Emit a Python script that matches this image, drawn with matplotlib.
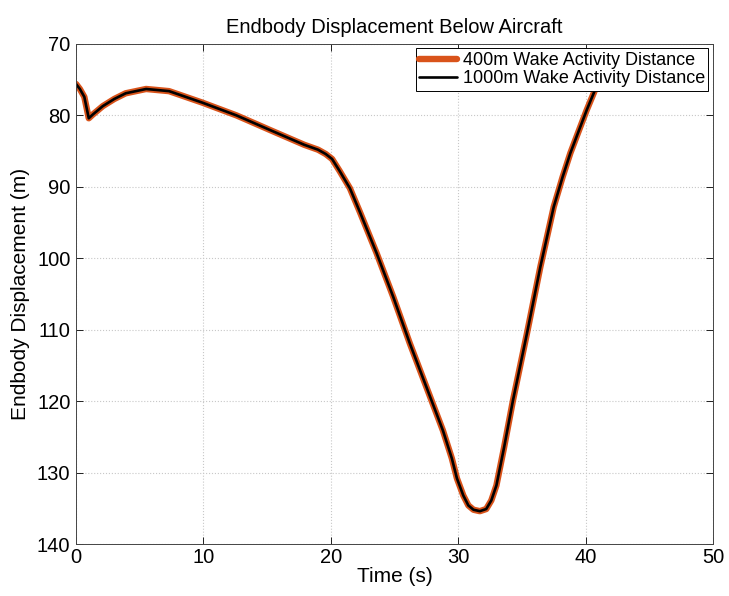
import numpy as np
import matplotlib
matplotlib.use("Agg")
import matplotlib.pyplot as plt

plt.rcParams['font.family'] = ['Liberation Sans', 'DejaVu Sans']

# endbody displacement traces (time in s, displacement in m)
time_s = [0, 0.3, 0.65, 1.0, 1.3, 2.1, 3.0, 3.9, 5.5, 7.3, 9.9, 12.6, 15.3,
          17.9, 19.0, 19.6, 20.1, 20.7, 21.5, 22.3, 23.6, 24.9, 26.2, 27.5,
          28.8, 29.5, 29.9, 30.4, 30.8, 31.2, 31.7, 32.2, 32.6, 33.0, 33.6,
          34.3, 35.4, 36.45, 37.5, 38.2, 38.8, 39.5, 40.1, 40.75, 41.5]
disp_400 = [75.6, 76.3, 77.4, 80.4, 79.9, 78.7, 77.7, 76.9, 76.3, 76.6, 78.2,
            80.0, 82.1, 84.1, 84.8, 85.4, 86.1, 87.8, 90.2, 93.6, 99.3, 105.4,
            111.9, 118.0, 124.1, 128.0, 130.8, 133.2, 134.6, 135.2, 135.4,
            135.1, 133.9, 131.8, 126.5, 119.9, 110.5, 101.2, 92.8, 88.6, 85.3,
            82.0, 79.2, 76.4, 73.5]
disp_1000 = list(disp_400)

labels = ['400m Wake Activity Distance', '1000m Wake Activity Distance']

fig = plt.figure(figsize=(7.29, 5.96), dpi=100)
ax = fig.add_axes([0.1043, 0.0872, 0.8737, 0.8390])

ax.plot(time_s, disp_400, color='#d9531a', lw=4.6, solid_joinstyle='round',
        solid_capstyle='round', label=labels[0])
ax.plot(time_s, disp_1000, color='black', lw=1.9, solid_joinstyle='round',
        solid_capstyle='round', label=labels[1])

ax.set_xlim(0, 50)
ax.set_ylim(140, 70)
ax.set_xticks(np.arange(0, 51, 10))
ax.set_yticks(np.arange(70, 141, 10))
ax.grid(True, linestyle=':', color='#c8c8c8', linewidth=0.8)
ax.tick_params(direction='in', top=True, right=True, labelsize=14.5,
               length=5, width=0.6)
ax.tick_params(axis='x', pad=3)
ax.tick_params(axis='y', pad=4)
for sp in ax.spines.values():
    sp.set_linewidth(0.7)
    sp.set_color('#444444')

ax.set_xlabel('Time (s)', fontsize=15, labelpad=0)
ax.set_ylabel('Endbody Displacement (m)', fontsize=15, labelpad=5)
ax.set_title('Endbody Displacement Below Aircraft', fontsize=14.5, pad=8)

leg = ax.legend(loc='upper right', fontsize=13, fancybox=False,
                edgecolor='black', framealpha=1, borderaxespad=0.25,
                borderpad=0.2, handlelength=2.1, handletextpad=0.3,
                labelspacing=0.05)
leg.get_frame().set_linewidth(0.7)

fig.savefig('out.png', dpi=100)
